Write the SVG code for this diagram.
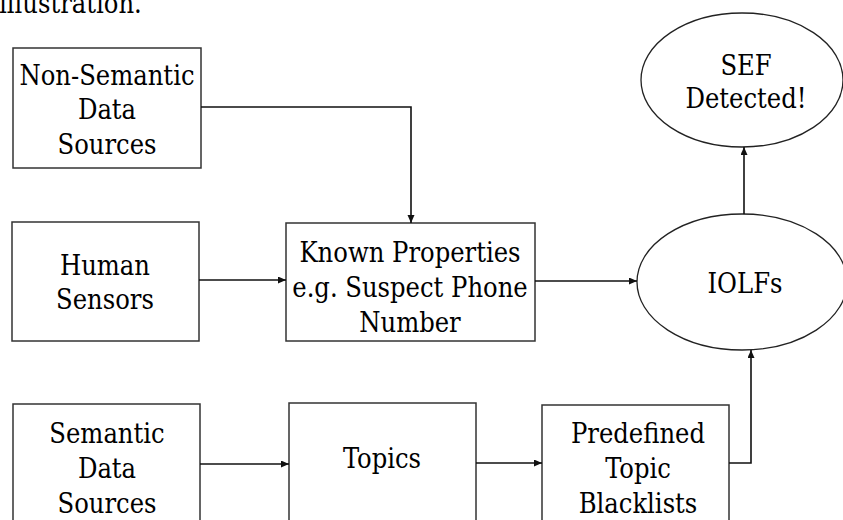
<svg xmlns="http://www.w3.org/2000/svg" width="843" height="520" viewBox="0 0 843 520">
<style>
text{font-family:"DejaVu Serif",serif;font-size:27px;fill:#000;text-anchor:middle;font-stretch:condensed}
.box{fill:#fff;stroke:#333;stroke-width:1.5}
.ell{fill:#fff;stroke:#222;stroke-width:1.3}
.con{fill:none;stroke:#111;stroke-width:1.6;marker-end:url(#arr)}
</style>
<defs>
<marker id="arr" markerUnits="userSpaceOnUse" markerWidth="9" markerHeight="8" refX="8" refY="3.5" orient="auto">
<path d="M0,0 L8,3.5 L0,7 z" fill="#111"/>
</marker>
</defs>
<rect width="843" height="520" fill="#fff"/>
<text x="-1" y="13" style="text-anchor:start">illustration.</text>
<g id="nonsemantic">
<rect class="box" x="13" y="48" width="188" height="120"/>
<text x="107" y="85">Non-Semantic</text>
<text x="107" y="119">Data</text>
<text x="107" y="154">Sources</text>
</g>
<g id="human">
<rect class="box" x="12" y="222" width="187" height="119"/>
<text x="105" y="275">Human</text>
<text x="105" y="309">Sensors</text>
</g>
<g id="known">
<rect class="box" x="286" y="223" width="249" height="118"/>
<text x="410" y="262">Known Properties</text>
<text x="410" y="297">e.g. Suspect Phone</text>
<text x="410" y="332">Number</text>
</g>
<g id="sef">
<ellipse class="ell" cx="742" cy="80" rx="101" ry="67"/>
<text x="746" y="75">SEF</text>
<text x="746" y="108">Detected!</text>
</g>
<g id="iolfs">
<ellipse class="ell" cx="742" cy="282" rx="105" ry="68"/>
<text x="745" y="293">IOLFs</text>
</g>
<g id="semantic">
<rect class="box" x="13" y="404" width="187" height="130"/>
<text x="107" y="443">Semantic</text>
<text x="107" y="478">Data</text>
<text x="107" y="513">Sources</text>
</g>
<g id="topics">
<rect class="box" x="289" y="403" width="187" height="130"/>
<text x="382" y="468">Topics</text>
</g>
<g id="predefined">
<rect class="box" x="542" y="405" width="187" height="130"/>
<text x="638" y="443">Predefined</text>
<text x="638" y="478">Topic</text>
<text x="638" y="513">Blacklists</text>
</g>
<g id="connectors">
<path class="con" d="M201,107 H411 V223"/>
<path class="con" d="M199,280 H286"/>
<path class="con" d="M535,281 H637"/>
<path class="con" d="M744,214 V147"/>
<path class="con" d="M200,464 H289"/>
<path class="con" d="M476,463 H542"/>
<path class="con" d="M729,463 H751 V350"/>
</g>
</svg>
